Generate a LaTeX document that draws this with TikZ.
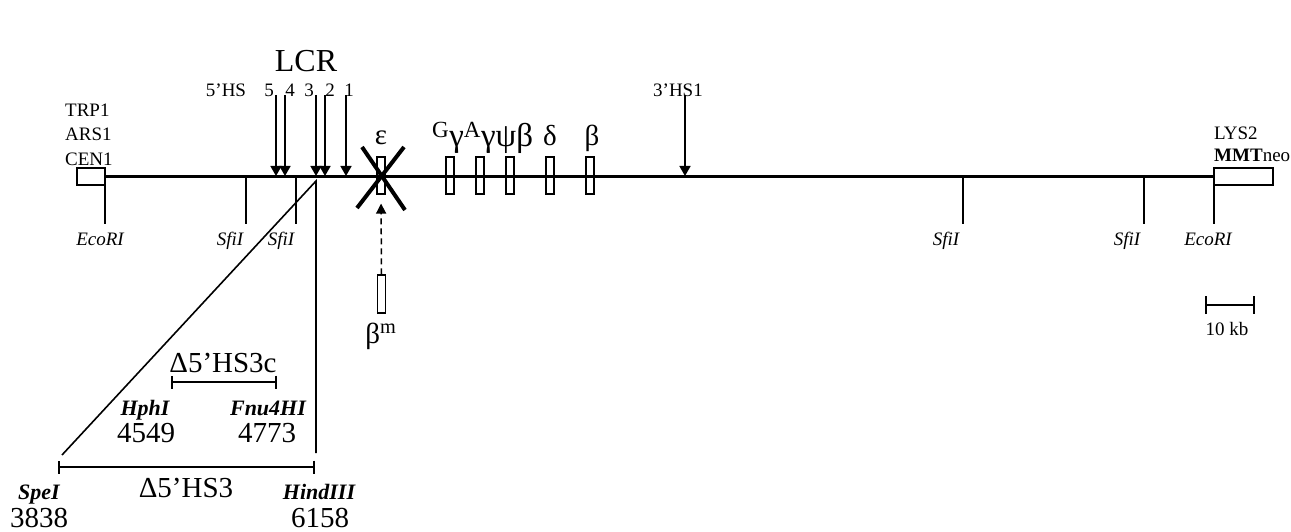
\documentclass[tikz,border=0pt]{standalone}
\usepackage{fontspec}
\setmainfont{Liberation Serif}
\usetikzlibrary{arrows.meta}

\tikzset{
  lbl/.style={font=\fontsize{19}{22}\selectfont, inner sep=0pt, anchor=base},
  site/.style={font=\fontsize{19}{22}\selectfont\itshape, inner sep=0pt, anchor=base},
  big/.style={font=\fontsize{29}{32}\selectfont, inner sep=0pt, anchor=base},
  enz/.style={font=\fontsize{22}{24}\selectfont\bfseries\itshape, inner sep=0pt, anchor=base},
  greek/.style={font=\fontsize{29}{32}\selectfont, inner sep=0pt, anchor=base},
  genebox/.style={draw, line width=1.2pt, minimum width=8pt, minimum height=37pt, inner sep=0pt},
  markerbox/.style={draw, line width=1.2pt, minimum height=17pt, inner sep=0pt},
  hsarrow/.style={-{Triangle[length=10pt,width=11pt]}, line width=1.6pt},
  bracket/.style={{Bar[width=13pt]}-{Bar[width=13pt]}, line width=2pt}
}

\begin{document}
\begin{tikzpicture}[x=1pt, y=-1pt]
  \useasboundingbox (0,0) rectangle (1291,532);
  % title
  \node[font=\fontsize{32}{34}\selectfont, inner sep=0pt, anchor=base] (lcr) at (306,72) {LCR};
  % YAC arms
  \node[markerbox, minimum width=28pt] (left) at (91,176.5) {};
  \node[markerbox, minimum width=59pt] (right) at (1243.5,176.5) {};
  \node[lbl, anchor=base west] (trp) at (65,117) {TRP1};
  \node[lbl, anchor=base west] (ars) at (65,141) {ARS1};
  \node[lbl, anchor=base west] (cen) at (65,165) {CEN1};
  \node[lbl, anchor=base west] (lys) at (1214,140) {LYS2};
  \node[lbl, anchor=base west] (mmt) at (1214,162) {\textbf{MMT}neo};
  \draw[line width=2.5pt] (left.east) -- (right.west);
  % restriction sites
  \foreach \n/\x in {e1/105, s1/246, s2/296, s3/963, s4/1144, e2/1214} {
    \coordinate (\n) at (\x,177);
    \coordinate (\n b) at (\x,224);
    \draw[line width=2pt] (\n) -- (\n b);
  }
  \node[site] (eco1) at (100,245) {EcoRI};
  \node[site] (sfi1) at (230,245) {SfiI};
  \node[site] (sfi2) at (281,245) {SfiI};
  \node[site] (sfi3) at (946,245) {SfiI};
  \node[site] (sfi4) at (1127,245) {SfiI};
  \node[site] (eco2) at (1208,245) {EcoRI};
  % hypersensitive sites
  \foreach \n/\x in {h5/276, h4/285, h3/316, h2/325, h1/346, hs3/685} {
    \coordinate (\n t) at (\x,95);
    \coordinate (\n) at (\x,176);
    \draw[hsarrow] (\n t) -- (\n);
  }
  \node[lbl] (hs5lab) at (226,97) {5’HS};
  \node[lbl] (n5) at (269,97) {5};
  \node[lbl] (n4) at (290,97) {4};
  \node[lbl] (n3) at (309,97) {3};
  \node[lbl] (n2) at (330,97) {2};
  \node[lbl] (n1) at (349,97) {1};
  \node[lbl] (hs3lab) at (678,97) {3’HS1};
  % globin genes
  \node[genebox] (eps) at (381,175.5) {};
  \node[genebox] (gg) at (450,175.5) {};
  \node[genebox] (ag) at (480,175.5) {};
  \node[genebox] (psib) at (510,175.5) {};
  \node[genebox] (delta) at (550,175.5) {};
  \node[genebox] (beta) at (590,175.5) {};
  \node[greek] (epslab) at (381,145) {ε};
  \node[greek, font=\fontsize{33}{36}\selectfont, anchor=base west] (glab) at (432,147) {\textsuperscript{G}γ\textsuperscript{A}γψβ};
  \node[greek] (dlab) at (550,146) {δ};
  \node[greek] (blab) at (592,146) {β};
  % deleted epsilon, replaced by beta-m
  \draw[line width=4pt] (362,147) -- (405,210);
  \draw[line width=4pt] (404,147) -- (357,208);
  \node[genebox, minimum height=38pt] (bm) at (381.5,294) {};
  \node[greek] (bmlab) at (381,343) {β\textsuperscript{m}};
  \draw[dashed, dash pattern=on 6pt off 4pt, line width=1.5pt, -{Triangle[length=10pt,width=10pt]}, shorten >=9pt] (bm.north) -- (eps.south);
  % expanded 5'HS3 region
  \coordinate (apex) at (316,181);
  \coordinate (dl) at (62,455);
  \coordinate (dr) at (316,453);
  \draw[line width=1.6pt] (dl) -- (apex) -- (dr);
  \coordinate (b1) at (58,467);
  \coordinate (b2) at (315,467);
  \draw[bracket] (b1) -- (b2);
  \coordinate (c1) at (171,382);
  \coordinate (c2) at (277,382);
  \draw[bracket] (c1) -- (c2);
  \node[big] (del3c) at (223,372) {Δ5’HS3c};
  \node[enz] (hph) at (145,415) {HphI};
  \node[big] (p4549) at (146,442) {4549};
  \node[enz] (fnu) at (268,415) {Fnu4HI};
  \node[big] (p4773) at (267,442) {4773};
  \node[big] (del3) at (186,497) {Δ5’HS3};
  \node[enz] (spe) at (39,499) {SpeI};
  \node[big] (p3838) at (39,527) {3838};
  \node[enz] (hind) at (319,499) {HindIII};
  \node[big] (p6158) at (320,527) {6158};
  % scale
  \coordinate (k1) at (1205,305);
  \coordinate (k2) at (1255,305);
  \draw[bracket, {Bar[width=18pt]}-{Bar[width=18pt]}] (k1) -- (k2);
  \node[lbl] (kb) at (1227,335) {10 kb};
\end{tikzpicture}
\end{document}
